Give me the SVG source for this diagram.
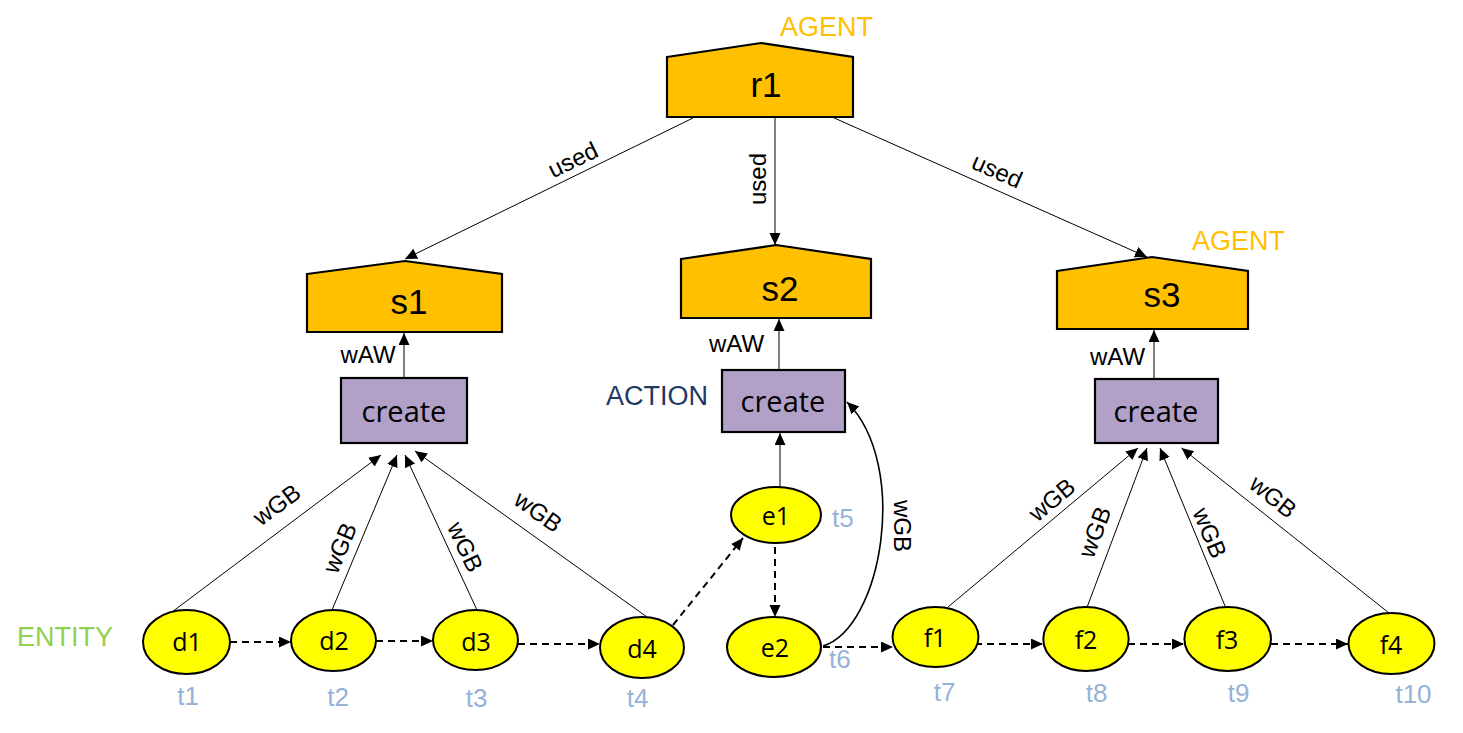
<svg xmlns="http://www.w3.org/2000/svg" width="1463" height="733" viewBox="0 0 1463 733">
<style>
.agent{fill:#FFC000;stroke:#000;stroke-width:2.2}
.act{fill:#B1A0C7;stroke:#000;stroke-width:2.2}
.ent{fill:#FFFF00;stroke:#000;stroke-width:2}
.atxt{font-family:"Liberation Sans",Arial,sans-serif;font-size:35px;fill:#000;text-anchor:middle}
.ctxt{font-family:"Open Sans","Noto Sans",sans-serif;font-size:29px;fill:#000;text-anchor:middle}
.etxt{font-family:"Open Sans","Noto Sans",sans-serif;font-size:25px;fill:#000;text-anchor:middle}
.tl{font-family:"Liberation Sans",Arial,sans-serif;font-size:26px;fill:#95B3D7}
.cat{font-family:"Liberation Sans",Arial,sans-serif;font-size:27px}
.el{font-family:"Liberation Sans",Arial,sans-serif;font-size:24px;fill:#000;text-anchor:middle}
.solid{fill:none;stroke:#000;stroke-width:1;marker-end:url(#ah)}
.dash{fill:none;stroke:#000;stroke-width:2;stroke-dasharray:7 5;marker-end:url(#ah)}
</style>
<defs>
<marker id="ah" markerUnits="userSpaceOnUse" markerWidth="14" markerHeight="12" refX="12" refY="5.5" orient="auto">
<path d="M0,0 L12,5.5 L0,11 z" fill="#000"/>
</marker>
</defs>
<rect width="1463" height="733" fill="#fff"/>

<g id="connectors">
<line class="solid" x1="693" y1="118" x2="405" y2="259"/>
<line class="solid" x1="775" y1="117" x2="775" y2="245"/>
<line class="solid" x1="832" y1="117" x2="1147" y2="257"/>
<line class="solid" x1="404" y1="378" x2="404" y2="333"/>
<line class="solid" x1="779" y1="370" x2="779" y2="319"/>
<line class="solid" x1="1154" y1="379" x2="1154" y2="330"/>
<line class="solid" x1="780" y1="487" x2="780" y2="433"/>
<line class="solid" x1="172" y1="612" x2="381" y2="455"/>
<line class="solid" x1="332" y1="610" x2="397" y2="455"/>
<line class="solid" x1="477" y1="610" x2="405" y2="455"/>
<line class="solid" x1="647" y1="617" x2="415" y2="451"/>
<line class="solid" x1="948" y1="607" x2="1138" y2="448"/>
<line class="solid" x1="1087.5" y1="606" x2="1147" y2="448"/>
<line class="solid" x1="1225" y1="606" x2="1160" y2="448"/>
<line class="solid" x1="1389" y1="613" x2="1181.5" y2="448"/>
<path class="solid" style="stroke-width:1.6" d="M823,646 C882,628 910,465 847,402"/>
<line class="dash" x1="230" y1="642" x2="291" y2="642"/>
<line class="dash" x1="376" y1="641" x2="433" y2="641"/>
<line class="dash" x1="518" y1="644" x2="600" y2="644"/>
<line class="dash" x1="673" y1="625" x2="743" y2="538"/>
<line class="dash" x1="775" y1="547" x2="775" y2="617"/>
<line class="dash" x1="823" y1="647" x2="893" y2="647"/>
<line class="dash" x1="975" y1="644" x2="1043" y2="644"/>
<line class="dash" x1="1128" y1="644" x2="1184" y2="644"/>
<line class="dash" x1="1271" y1="644" x2="1348" y2="644"/>
<text class="el" transform="translate(573,160) rotate(-25.8)" dy="8">used</text>
<text class="el" transform="translate(758,179) rotate(-90)" dy="8">used</text>
<text class="el" transform="translate(997,171) rotate(23.7)" dy="8">used</text>
<text class="el" x="368" y="363">wAW</text>
<text class="el" x="736.5" y="352">wAW</text>
<text class="el" x="1117.5" y="365">wAW</text>
<text class="el" transform="translate(277,505) rotate(-36.4)" dy="8">wGB</text>
<text class="el" transform="translate(340,548) rotate(-67.2)" dy="8">wGB</text>
<text class="el" transform="translate(465,547) rotate(65.1)" dy="8">wGB</text>
<text class="el" transform="translate(538,512) rotate(35.6)" dy="8">wGB</text>
<text class="el" transform="translate(1052,500) rotate(-39.9)" dy="8">wGB</text>
<text class="el" transform="translate(1095,532) rotate(-69.4)" dy="8">wGB</text>
<text class="el" transform="translate(1209.5,533) rotate(67.6)" dy="8">wGB</text>
<text class="el" transform="translate(1273,497) rotate(38.5)" dy="8">wGB</text>
<text class="el" transform="translate(902,526) rotate(90)" dy="8">wGB</text>
</g>

<g id="r1"><polygon class="agent" points="667,57 761,43 853,57 853,117 667,117"/><text class="atxt" x="766" y="97">r1</text></g>
<g id="s1"><polygon class="agent" points="307,274 405,261 502,274 502,332 307,332"/><text class="atxt" x="409" y="314">s1</text></g>
<g id="s2"><polygon class="agent" points="681,259 776,245 871,259 871,318 681,318"/><text class="atxt" x="780" y="301">s2</text></g>
<g id="s3"><polygon class="agent" points="1057,271 1152,257 1248,271 1248,329 1057,329"/><text class="atxt" x="1162" y="307">s3</text></g>

<g id="create1"><rect class="act" x="341" y="378" width="126" height="65"/><text class="ctxt" x="404" y="422">create</text></g>
<g id="create2"><rect class="act" x="722" y="370" width="123" height="62"/><text class="ctxt" x="783" y="412">create</text></g>
<g id="create3"><rect class="act" x="1095" y="379" width="123" height="64"/><text class="ctxt" x="1156" y="422">create</text></g>

<g id="d1"><ellipse class="ent" cx="186.5" cy="642" rx="43.5" ry="32"/><text class="etxt" x="187" y="651">d1</text></g>
<g id="d2"><ellipse class="ent" cx="333.5" cy="640.5" rx="42.5" ry="30.5"/><text class="etxt" x="334" y="650">d2</text></g>
<g id="d3"><ellipse class="ent" cx="475.5" cy="640" rx="42.5" ry="30"/><text class="etxt" x="476" y="651">d3</text></g>
<g id="d4"><ellipse class="ent" cx="642" cy="647.5" rx="42" ry="30.5"/><text class="etxt" x="642" y="658">d4</text></g>
<g id="e1"><ellipse class="ent" cx="776" cy="515" rx="45" ry="28"/><text class="etxt" x="776" y="525">e1</text></g>
<g id="e2"><ellipse class="ent" cx="774" cy="647" rx="47" ry="30"/><text class="etxt" x="775" y="657">e2</text></g>
<g id="f1"><ellipse class="ent" cx="935.5" cy="637" rx="43" ry="30"/><text class="etxt" x="935" y="647">f1</text></g>
<g id="f2"><ellipse class="ent" cx="1086" cy="639" rx="42.7" ry="32"/><text class="etxt" x="1086" y="649">f2</text></g>
<g id="f3"><ellipse class="ent" cx="1227.7" cy="639" rx="43.3" ry="32"/><text class="etxt" x="1227" y="649">f3</text></g>
<g id="f4"><ellipse class="ent" cx="1391.5" cy="643.5" rx="43" ry="30.5"/><text class="etxt" x="1391" y="654">f4</text></g>

<g id="timestamps">
<text class="tl" x="188" y="705" text-anchor="middle">t1</text>
<text class="tl" x="338" y="706" text-anchor="middle">t2</text>
<text class="tl" x="476.5" y="707" text-anchor="middle">t3</text>
<text class="tl" x="637.5" y="707" text-anchor="middle">t4</text>
<text class="tl" x="832" y="527">t5</text>
<text class="tl" x="829" y="668">t6</text>
<text class="tl" x="944.5" y="701" text-anchor="middle">t7</text>
<text class="tl" x="1096.5" y="702" text-anchor="middle">t8</text>
<text class="tl" x="1238.5" y="702" text-anchor="middle">t9</text>
<text class="tl" x="1413.5" y="703" text-anchor="middle">t10</text>
</g>

<g id="categories">
<text class="cat" x="780" y="36" fill="#FFC000">AGENT</text>
<text class="cat" x="1192" y="250" fill="#FFC000">AGENT</text>
<text class="cat" x="606" y="405" fill="#1F3864">ACTION</text>
<text class="cat" x="17" y="646" fill="#92D050">ENTITY</text>
</g>
</svg>
